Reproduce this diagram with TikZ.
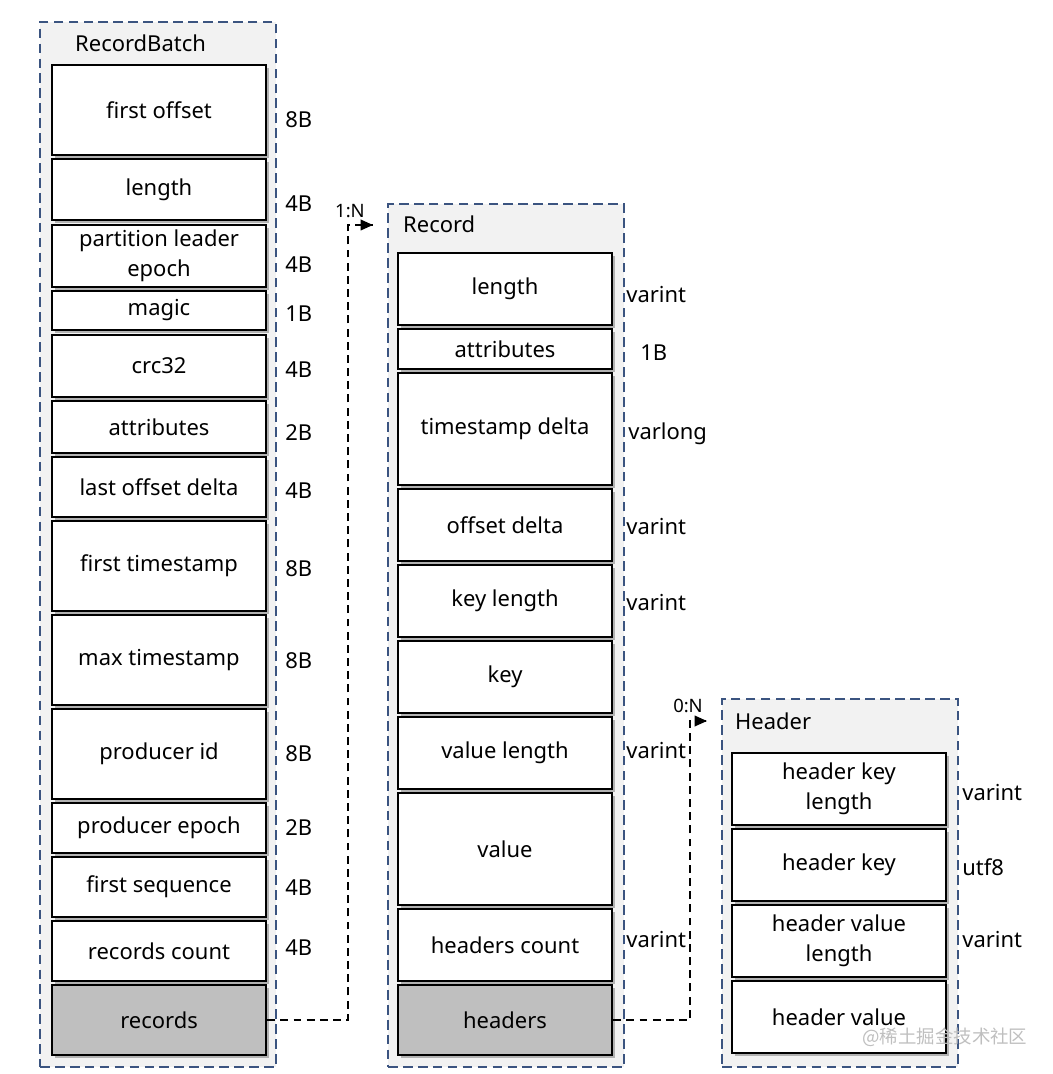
\documentclass[tikz,border=0pt]{standalone}
\usepackage{fontspec}
\setmainfont{Noto Sans}
\newfontfamily\cjk{Noto Sans CJK SC}
\usepackage{tikz}
\usetikzlibrary{arrows.meta, positioning, calc, shadows}
\definecolor{frameblue}{RGB}{59, 84, 128}
\definecolor{framefill}{RGB}{242, 242, 242}
\definecolor{keyfill}{RGB}{191, 191, 191}

\begin{document}
\begin{tikzpicture}[
        x=0.02cm, y=-0.02cm,
        frame/.style={draw=frameblue, fill=framefill, dash pattern=on 5.5pt off 3pt,
                      line width=1.3pt, minimum width=4.72cm, inner sep=0pt},
        title/.style={anchor=west, font=\fontsize{12.5}{15}\selectfont},
        field/.style={draw, line width=1.4pt, fill=white, minimum width=4.28cm,
                      inner sep=0pt, align=center, font=\fontsize{12.5}{17}\selectfont,
                      drop shadow={shadow xshift=1.6pt, shadow yshift=-1.6pt,
                                   fill=black!60, opacity=0.45}},
        listfield/.style={field, fill=keyfill},
        size/.style={anchor=west, inner sep=0pt, font=\fontsize{12.5}{15}\selectfont},
        card/.style={font=\fontsize{10.5}{12}\selectfont, inner sep=0pt},
        link/.style={dashed, line width=1pt, dash pattern=on 4.5pt off 3pt},
    ]
        \useasboundingbox (0,0) rectangle (1052,1074);

        \node[frame, minimum height=20.9cm] (batch) at (158,544.5) {};
        \node[frame, minimum height=17.26cm] (record) at (506,635.5) {};
        \node[frame, minimum height=7.36cm] (header) at (840,883) {};
        \node[title] (batcht) at (69,43) {RecordBatch};
        \node[title] (recordt) at (397,224) {Record};
        \node[title] (headert) at (729,721) {Header};

        \node[field, minimum height=1.8cm]  (b1)  at (159,110)   {first offset};
        \node[field, minimum height=1.22cm] (b2)  at (159,189.5) {length};
        \node[field, minimum height=1.24cm] (b3)  at (159,256)   {partition leader\\epoch};
        \node[field, minimum height=0.78cm] (b4)  at (159,310.5) {magic};
        \node[field, minimum height=1.24cm] (b5)  at (159,366)   {crc32};
        \node[field, minimum height=1.04cm] (b6)  at (159,427)   {attributes};
        \node[field, minimum height=1.2cm]  (b7)  at (159,487)   {last offset delta};
        \node[field, minimum height=1.8cm]  (b8)  at (159,566)   {first timestamp};
        \node[field, minimum height=1.8cm]  (b9)  at (159,660)   {max timestamp};
        \node[field, minimum height=1.8cm]  (b10) at (159,754)   {producer id};
        \node[field, minimum height=1.0cm]  (b11) at (159,828)   {producer epoch};
        \node[field, minimum height=1.2cm]  (b12) at (159,887)   {first sequence};
        \node[field, minimum height=1.2cm]  (b13) at (159,951)   {records count};
        \node[listfield, minimum height=1.4cm] (recs) at (159,1020) {records};

        \node[size] at (285,120) {8B};
        \node[size] at (285,204) {4B};
        \node[size] at (285,265) {4B};
        \node[size] at (285,314) {1B};
        \node[size] at (285,370) {4B};
        \node[size] at (285,433) {2B};
        \node[size] at (285,491) {4B};
        \node[size] at (285,569) {8B};
        \node[size] at (285,661) {8B};
        \node[size] at (285,754) {8B};
        \node[size] at (285,828) {2B};
        \node[size] at (285,888) {4B};
        \node[size] at (285,948) {4B};

        \node[field, minimum height=1.44cm] (r1) at (505,289) {length};
        \node[field, minimum height=0.8cm]  (r2) at (505,349) {attributes};
        \node[field, minimum height=2.24cm] (r3) at (505,429) {timestamp delta};
        \node[field, minimum height=1.44cm] (r4) at (505,525) {offset delta};
        \node[field, minimum height=1.44cm] (r5) at (505,601) {key length};
        \node[field, minimum height=1.44cm] (r6) at (505,677) {key};
        \node[field, minimum height=1.44cm] (r7) at (505,753) {value length};
        \node[field, minimum height=2.24cm] (r8) at (505,849) {value};
        \node[field, minimum height=1.44cm] (r9) at (505,945) {headers count};
        \node[listfield, minimum height=1.4cm] (hdrs) at (505,1020) {headers};

        \node[size] at (626,295) {varint};
        \node[size] at (640,353) {1B};
        \node[size] at (628,434) {varlong};
        \node[size] at (626,527) {varint};
        \node[size] at (626,603) {varint};
        \node[size] at (626,751) {varint};
        \node[size] at (626,940) {varint};

        \node[field, minimum height=1.44cm] (h1) at (839,789)  {header key\\length};
        \node[field, minimum height=1.44cm] (h2) at (839,865)  {header key};
        \node[field, minimum height=1.44cm] (h3) at (839,941)  {header value\\length};
        \node[field, minimum height=1.44cm] (h4) at (839,1017) {header value};

        \node[size] at (962,793) {varint};
        \node[size] at (962,867) {utf8};
        \node[size] at (962,940) {varint};

        \coordinate (rbend) at (348,225);
        \coordinate (rin) at (373,225);
        \coordinate (hbend) at (690,721);
        \coordinate (hin) at (707,721);
        \draw[link] (recs.east) -| (rbend) -- (rin);
        \draw[-{Triangle[length=7pt, width=6pt]}, line width=1pt] ($(rin)+(-1,0)$) -- (rin);
        \draw[link] (hdrs.east) -| (hbend) -- (hin);
        \draw[-{Triangle[length=7pt, width=6pt]}, line width=1pt] ($(hin)+(-1,0)$) -- (hin);
        \node[card] (rcard) at (350,211) {1:N};
        \node[card] (hcard) at (688,706) {0:N};

        \node[anchor=west, inner sep=0pt, text=black!25, font=\cjk\fontsize{10.5}{13}\selectfont]
            (mark) at (862,1037) {@稀土掘金技术社区};
\end{tikzpicture}
\end{document}
